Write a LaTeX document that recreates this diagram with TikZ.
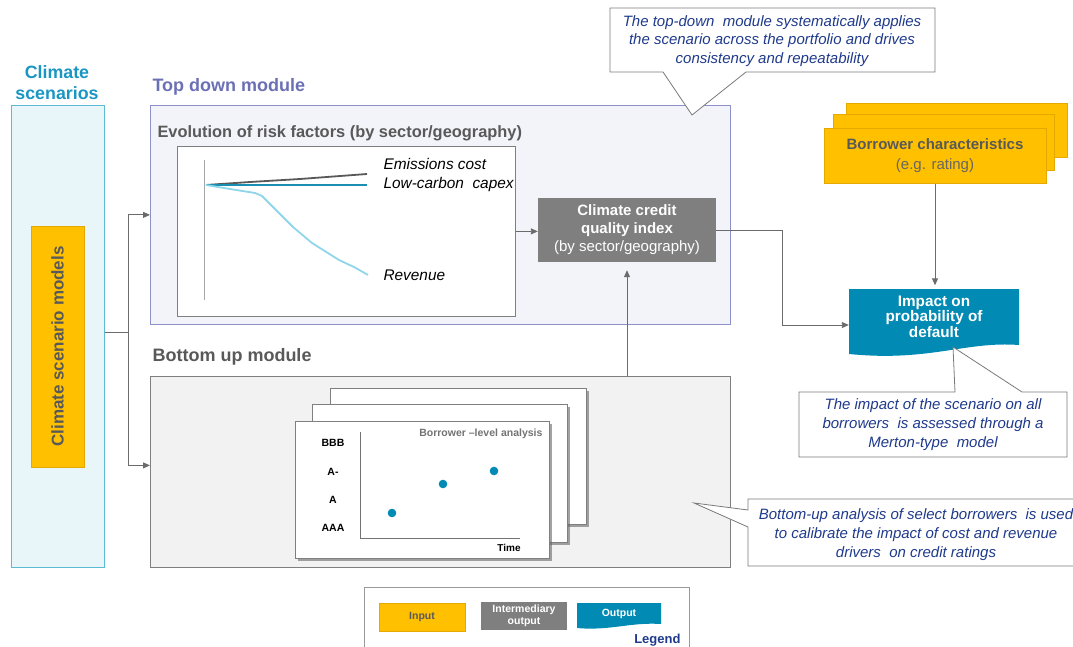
\documentclass[tikz,border=0pt]{standalone}
\usepackage{fontspec}
\setmainfont{Liberation Sans}
\usetikzlibrary{arrows.meta,shadows}
\newcommand{\fsz}[2]{\fontsize{#1}{#2}\selectfont}
\definecolor{scenblue}{HTML}{1A96C2}
\definecolor{colfill}{HTML}{E8F6F9}
\definecolor{coledge}{HTML}{5DBAD5}
\definecolor{inorange}{HTML}{FFC000}
\definecolor{inedge}{HTML}{E5A800}
\definecolor{darktxt}{HTML}{595959}
\definecolor{topfill}{HTML}{F3F3FA}
\definecolor{topedge}{HTML}{8E91C9}
\definecolor{toptxt}{HTML}{6B70B4}
\definecolor{midgray}{HTML}{7F7F7F}
\definecolor{outblue}{HTML}{008AB4}
\definecolor{notetxt}{HTML}{1F3A8C}
\definecolor{notegray}{HTML}{7A7A7A}
\definecolor{botfill}{HTML}{F2F2F2}
\definecolor{arrgray}{HTML}{6B6B6B}
\definecolor{capexcol}{HTML}{1B8FB3}
\definecolor{revcol}{HTML}{8FD6EA}

\begin{document}
\begin{tikzpicture}[x=1pt,y=-1pt,
  arr/.style={draw=arrgray,line width=0.9pt,-{Triangle[length=7pt,width=6pt]}},
  conn/.style={draw=arrgray,line width=0.9pt},
  note/.style={draw=notegray,fill=white,line width=0.8pt},
  notetext/.style={text=notetxt,font=\fsz{15}{18.8}\itshape,align=center},
  inbox/.style={draw=inedge,fill=inorange,line width=0.8pt,text=darktxt},
  midbox/.style={fill=midgray,text=white,align=center},
  card/.style={draw=midgray,fill=white,line width=0.8pt,drop shadow={shadow xshift=2.5pt,shadow yshift=-2.5pt,fill=black!60,opacity=0.6}},
  cardlbl/.style={font=\fsz{10.5}{12}\bfseries},
  modtitle/.style={anchor=west,font=\fsz{18}{20}\bfseries}]
\useasboundingbox (0,0) rectangle (1073,647);

% climate scenarios column
\node[draw=coledge,fill=colfill,line width=1pt,anchor=north west,minimum width=93pt,minimum height=462pt] (scen) at (11,105) {};
\node[text=scenblue,font=\fsz{17.8}{21}\bfseries,align=center] (scentitle) at (57,83) {Climate\\scenarios};
\node[inbox,rotate=90,minimum width=241pt,minimum height=53pt,font=\fsz{17}{18}\bfseries] (models) at (57.5,346.5) {Climate scenario models};

% top down module
\node[draw=topedge,fill=topfill,line width=0.8pt,anchor=north west,minimum width=580pt,minimum height=219pt] (topbox) at (150,105) {};
\node[modtitle,text=toptxt] (toptitle) at (149,87) {Top down module};
\node[anchor=west,text=darktxt,font=\fsz{16.4}{18}\bfseries] (evotitle) at (154,133) {Evolution of risk factors (by sector/geography)};
\node[draw=midgray,fill=white,line width=0.8pt,anchor=north west,minimum width=338pt,minimum height=170pt] (chart) at (177,146) {};
\draw[black!35,line width=1pt] (204,160) -- (204,300);
\draw[darktxt,line width=1.8pt] (206,185) -- (250,182) -- (300,179) -- (367,174);
\draw[capexcol,line width=1.8pt] (206,185) -- (367,185);
\draw[revcol,line width=1.8pt] (206,185) -- (230,189) -- (255,193) -- (262,196) -- (274,208) -- (293,227) -- (312,243) -- (339,260) -- (354,267) -- (368,275);
\node[anchor=west,font=\fsz{15.4}{17}\itshape] (emis) at (380,164) {Emissions cost};
\node[anchor=west,font=\fsz{15.4}{17}\itshape] (capex) at (380,185) {Low-carbon\ \ capex};
\node[anchor=west,font=\fsz{15.4}{17}\itshape] (rev) at (380,275) {Revenue};
\node[midbox,minimum width=178pt,minimum height=64pt,font=\fsz{15}{18}] (cqi) at (627,230) {\textbf{Climate credit}\\\textbf{quality index}\\(by sector/geography)};

% bottom up module
\node[draw=midgray,fill=botfill,line width=0.8pt,anchor=north west,minimum width=580pt,minimum height=191pt] (botbox) at (150,376) {};
\node[modtitle,text=darktxt] (bottitle) at (149,357) {Bottom up module};
\node[card,anchor=north west,minimum width=256pt,minimum height=136pt] (card3) at (330,388) {};
\node[card,anchor=north west,minimum width=255pt,minimum height=138pt] (card2) at (312,404) {};
\node[card,anchor=north west,minimum width=254pt,minimum height=137pt] (card1) at (295,421) {};
\draw[black!55,line width=0.8pt] (360,432) -- (360,538) -- (520,538);
\node[cardlbl] (bbb) at (333,443) {BBB};
\node[cardlbl] (aminus) at (333,472) {A-};
\node[cardlbl] (asingle) at (333,500) {A};
\node[cardlbl] (aaa) at (333,528) {AAA};
\node[anchor=east,text=black!55,font=\fsz{10.5}{12}\bfseries] (bla) at (546,434) {Borrower --level analysis};
\node[cardlbl,font=\fsz{10}{12}\bfseries] (time) at (509,548) {Time};
\fill[outblue] (392,513) circle (4.3);
\fill[outblue] (443,484) circle (4.3);
\fill[outblue] (494,471) circle (4.3);

% borrower characteristics and PD
\node[inbox,anchor=north west,minimum width=221pt,minimum height=54pt] (bc3) at (846,103) {};
\node[inbox,anchor=north west,minimum width=221pt,minimum height=56pt] (bc2) at (833,114) {};
\node[inbox,minimum width=222pt,minimum height=55pt,align=center,font=\fsz{15}{20}\bfseries] (bc1) at (935,156) {Borrower characteristics\\{\mdseries\color{black!60}(e.g. rating)}};
\fill[outblue] (849,289) -- (1019,289) -- (1019,345) .. controls (965,341) and (930,362) .. (849,354) -- cycle;
\node[text=white,align=center,minimum width=170pt,minimum height=62pt,font=\fsz{15.3}{15.5}\bfseries] (pd) at (934,316.5) {Impact on\\probability of\\default};

% connectors
\draw[conn] ([yshift=4pt]scen.east) -- ++(23,0) coordinate (split);
\draw[arr] (split) |- (topbox.west);
\draw[arr] (split) |- ([yshift=6.5pt]botbox.west);
\draw[arr] (chart.east) -- (chart.east -| cqi.west);
\draw[arr,shorten >=8pt] (botbox.north -| cqi) -- (cqi.south);
\draw[arr] (cqi.east) -- ++(66,0) |- ([yshift=-8.5pt]pd.west);
\draw[arr] (bc1.south) -- (bc1.south |- pd.north);

% callouts
\filldraw[note] (610,8) -- (935,8) -- (935,72) -- (746,72) -- (692,115) -- (663,72) -- (610,72) -- cycle;
\node[notetext] (tdnote) at (772,41) {The top-down\ \ module systematically applies\\the scenario across the portfolio and drives\\consistency and repeatability};
\filldraw[note] (799,392) -- (955,392) -- (953,347) -- (1022,392) -- (1067,392) -- (1067,457) -- (799,457) -- cycle;
\node[notetext] (pdnote) at (933,424.5) {The impact of the scenario on all\\borrowers\ \ is assessed through a\\Merton-type\ \ model};
\filldraw[note] (748,499) -- (1085,499) -- (1085,566) -- (748,566) -- (748,527) -- (694,503) -- (748,510) -- cycle;
\node[notetext] (bunote) at (916,534.5) {Bottom-up analysis of select borrowers\ \ is used\\to calibrate the impact of cost and revenue\\drivers\ \ on credit ratings};

% legend
\node[draw=black!40,line width=0.8pt,anchor=north west,minimum width=325pt,minimum height=80pt] (legend) at (364,587) {};
\node[inbox,minimum width=86pt,minimum height=28pt,font=\fsz{10.5}{12}\bfseries] (lin) at (422,617) {Input};
\node[midbox,minimum width=86pt,minimum height=28pt,font=\fsz{10.5}{11.5}\bfseries] (lmid) at (524,616) {Intermediary\\output};
\fill[outblue] (577,603) -- (661,603) -- (661,624) .. controls (630,622) and (610,631) .. (577,628) -- cycle;
\node[text=white,font=\fsz{10.5}{12}\bfseries] (lout) at (619,614) {Output};
\node[anchor=east,text=notetxt,font=\fsz{13}{15}\bfseries] (legtitle) at (684,640) {Legend};
\end{tikzpicture}
\end{document}
